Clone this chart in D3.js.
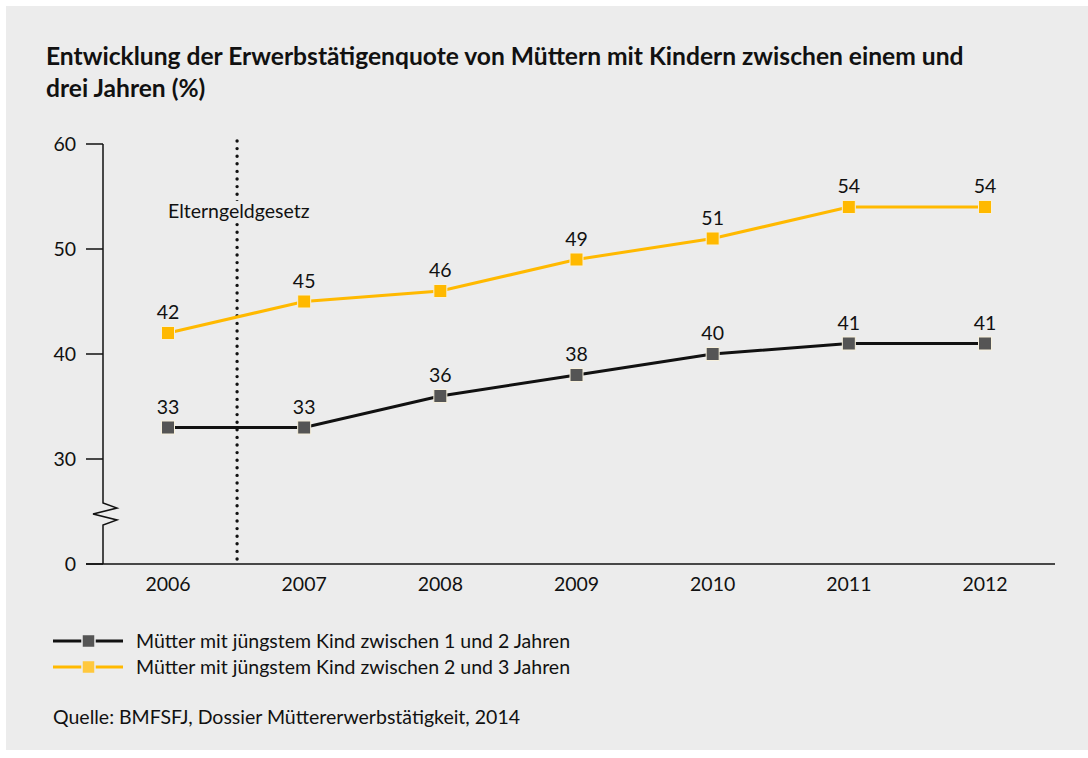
<!DOCTYPE html>
<html>
<head>
<meta charset="utf-8">
<script src="https://cdn.jsdelivr.net/npm/d3@7"></script>
<style>
  body { margin: 0; background: #ffffff; }
  svg text { font-family: "Lato", "Noto Sans", sans-serif; fill: #111; }
</style>
</head>
<body>
<svg id="chart" width="1088" height="758"></svg>
<script>
////////////////////////////////////////////////////////////////////////////////////
// Data
var years = ["2006", "2007", "2008", "2009", "2010", "2011", "2012"];
var values_1to2 = [33, 33, 36, 38, 40, 41, 41];
var values_2to3 = [42, 45, 46, 49, 51, 54, 54];
var yTicks = [0, 30, 40, 50, 60];
var seriesNames = ["Mütter mit jüngstem Kind zwischen 1 und 2 Jahren",
                   "Mütter mit jüngstem Kind zwischen 2 und 3 Jahren"];
var titleLines = ["Entwicklung der Erwerbstätigenquote von Müttern mit Kindern zwischen einem und",
                  "drei Jahren (%)"];
var markerLabel = "Elterngeldgesetz";
var sourceText = "Quelle: BMFSFJ, Dossier Müttererwerbstätigkeit, 2014";

var black = "#111111", grayMark = "#555555", orange = "#ffb900";
var textSize = "19.5px";

var svg = d3.select("#chart");

// panel background
svg.append("rect")
   .attr("x", 6).attr("y", 6)
   .attr("width", 1082).attr("height", 744)
   .style("fill", "#ececec");

// title
svg.selectAll(".title")
   .data(titleLines)
   .enter()
   .append("text")
   .attr("class", "title")
   .attr("x", 46)
   .attr("y", function(d, i) { return 65 + i * 32; })
   .style("font-size", "24.6px")
   .style("font-weight", "bold")
   .text(function(d) { return d; });

////////////////////////////////////////////////////////////////////////////////////
// Scales (broken y axis: 0 -> 30 takes one step)
var xScale = d3.scalePoint().domain(years).range([168, 985]);
var yScale = d3.scaleLinear().domain([0, 30, 60]).range([564, 459, 144]);
var axisX = 103;

// y axis line with break
var breakPath = d3.path();
breakPath.moveTo(axisX, yScale(60));
breakPath.lineTo(axisX, 503);
breakPath.lineTo(117, 508);
breakPath.lineTo(93, 514);
breakPath.lineTo(117, 520);
breakPath.lineTo(axisX, 525);
breakPath.lineTo(axisX, yScale(0));
svg.append("path")
   .attr("d", breakPath.toString())
   .style("fill", "none")
   .style("stroke", black)
   .style("stroke-width", 1.5);

// y ticks
svg.selectAll(".ytick")
   .data(yTicks)
   .enter()
   .append("line")
   .attr("class", "ytick")
   .attr("x1", 86).attr("x2", axisX)
   .attr("y1", function(d) { return yScale(d); })
   .attr("y2", function(d) { return yScale(d); })
   .style("stroke", black)
   .style("stroke-width", 1.5);
svg.selectAll(".ylabel")
   .data(yTicks)
   .enter()
   .append("text")
   .attr("class", "ylabel")
   .attr("x", 76)
   .attr("y", function(d) { return yScale(d) + 7; })
   .attr("text-anchor", "end")
   .style("font-size", textSize)
   .text(function(d) { return d; });

// x axis
svg.append("line")
   .attr("x1", 86).attr("x2", 1055)
   .attr("y1", yScale(0)).attr("y2", yScale(0))
   .style("stroke", black)
   .style("stroke-width", 1.5);
svg.selectAll(".xlabel")
   .data(years)
   .enter()
   .append("text")
   .attr("class", "xlabel")
   .attr("x", function(d) { return xScale(d); })
   .attr("y", 591)
   .attr("text-anchor", "middle")
   .style("font-size", textSize)
   .text(function(d) { return d; });

////////////////////////////////////////////////////////////////////////////////////
// Elterngeldgesetz marker (between 2006 and 2007)
var lawX = (xScale("2006") + xScale("2007")) / 2 + 1;
svg.append("line")
   .attr("x1", lawX).attr("x2", lawX)
   .attr("y1", 141).attr("y2", yScale(0))
   .style("stroke", black)
   .style("stroke-width", 3.4)
   .style("stroke-linecap", "round")
   .style("stroke-dasharray", "0 7.6");
var lawLabel = svg.append("text")
   .attr("x", 168)
   .attr("y", 218)
   .style("font-size", textSize)
   .text(markerLabel);
var bb = lawLabel.node().getBBox();
svg.insert("rect", "text:last-of-type")
   .attr("x", bb.x - 2).attr("y", bb.y + 2)
   .attr("width", bb.width + 4).attr("height", bb.height - 2)
   .style("fill", "#ececec");
lawLabel.raise();

////////////////////////////////////////////////////////////////////////////////////
// Lines and markers
function plotSeries(values, lineColor, markColor) {
  var line = d3.line()
               .x(function(d, i) { return xScale(years[i]); })
               .y(function(d) { return yScale(d); });
  svg.append("path")
     .datum(values)
     .attr("d", line)
     .style("fill", "none")
     .style("stroke", lineColor)
     .style("stroke-width", 3);
  svg.selectAll(null)
     .data(values)
     .enter()
     .append("rect")
     .attr("x", function(d, i) { return xScale(years[i]) - 6.5; })
     .attr("y", function(d) { return yScale(d) - 6.5; })
     .attr("width", 13).attr("height", 13)
     .style("fill", markColor)
     .style("stroke", "#f7f0dc")
     .style("stroke-width", 1);
  svg.selectAll(null)
     .data(values)
     .enter()
     .append("text")
     .attr("x", function(d, i) { return xScale(years[i]); })
     .attr("y", function(d) { return yScale(d) - 14; })
     .attr("text-anchor", "middle")
     .style("font-size", textSize)
     .text(function(d) { return d; });
}
plotSeries(values_1to2, black, grayMark);
plotSeries(values_2to3, orange, orange);

////////////////////////////////////////////////////////////////////////////////////
// Legend
var legendColors = [[black, grayMark], [orange, "#ffc83d"]];
var legend = svg.selectAll(".legend")
                .data(seriesNames)
                .enter()
                .append("g")
                .attr("class", "legend")
                .attr("transform", function(d, i) { return "translate(0," + (641 + i * 26) + ")"; });
legend.append("line")
      .attr("x1", 53).attr("x2", 123)
      .attr("y1", 0).attr("y2", 0)
      .style("stroke", function(d, i) { return legendColors[i][0]; })
      .style("stroke-width", 3);
legend.append("rect")
      .attr("x", 82).attr("y", -6.5)
      .attr("width", 13).attr("height", 13)
      .style("fill", function(d, i) { return legendColors[i][1]; })
      .style("stroke", "#ececec")
      .style("stroke-width", 1.5);
legend.append("text")
      .attr("x", 136).attr("y", 7)
      .style("font-size", textSize)
      .text(function(d) { return d; });

// source
svg.append("text")
   .attr("x", 53).attr("y", 724)
   .style("font-size", textSize)
   .text(sourceText);
</script>
</body>
</html>
